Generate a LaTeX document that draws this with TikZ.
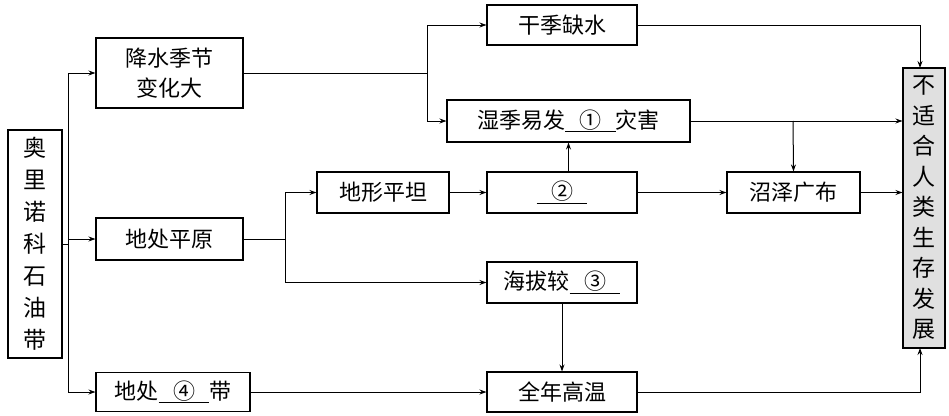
\documentclass[tikz,border=0pt]{standalone}
\usepackage{fontspec}
\setmainfont{Noto Sans CJK SC}
\usetikzlibrary{arrows.meta}
\newcommand\blank[1]{\underline{\makebox[2.3em]{#1}}}
\begin{document}
\begin{tikzpicture}[x=1pt,y=-1pt,
  box/.style={draw,line width=1.1pt,font=\fontsize{22}{24}\selectfont,inner sep=0pt,align=center},
  ar/.style={line width=1pt,-{Stealth[length=7pt,width=5pt]}},
  ln/.style={line width=1pt}]
\useasboundingbox (0,0) rectangle (949,415);
\node[box,minimum width=54,minimum height=228,font=\fontsize{23}{32}\selectfont] (a) at (35,244) {奥\\里\\诺\\科\\石\\油\\带};
\node[box,minimum width=147,minimum height=70,font=\fontsize{22}{30}\selectfont] (b) at (169.5,73) {降水季节\\变化大};
\node[box,minimum width=147,minimum height=42] (c) at (169.5,239) {地处平原};
\node[box,minimum width=154,minimum height=39] (d) at (173,392) {地处\blank{④}带};
\node[box,minimum width=150,minimum height=40] (e) at (562,25) {干季缺水};
\node[box,minimum width=243,minimum height=42] (f) at (568.5,121) {湿季易发\blank{①}灾害};
\node[box,minimum width=132,minimum height=41] (g) at (383,192.5) {地形平坦};
\node[box,minimum width=150,minimum height=41] (h) at (562,192.5) {\blank{②}};
\node[box,minimum width=133,minimum height=41] (i) at (793.5,192.5) {沼泽广布};
\node[box,minimum width=150,minimum height=41] (j) at (562,282.5) {海拔较\blank{③}};
\node[box,minimum width=150,minimum height=40] (k) at (562,392) {全年高温};
\node[box,fill=black!12,minimum width=42,minimum height=280,font=\fontsize{23}{30.5}\selectfont] (z) at (924,208) {不\\适\\合\\人\\类\\生\\存\\发\\展};
% left trunk
\draw[ln] (a.east) -- (68,244);
\draw[ln] (68,73) -- (68,392);
\draw[ar] (68,73) -- (b.west);
\draw[ar] (68,239) -- (c.west);
\draw[ar] (68,392) -- (d.west);
% from b
\draw[ln] (b.east) -- (427,73);
\draw[ln] (427,25) -- (427,121);
\draw[ar] (427,25) -- (e.west);
\draw[ar] (427,121) -- (f.west);
% from c
\draw[ln] (c.east) -- (285,239);
\draw[ln] (285,192.5) -- (285,282.5);
\draw[ar] (285,192.5) -- (g.west);
\draw[ar] (285,282.5) -- (j.west);
\draw[ar] (g) -- (h);
\draw[ar] (f.south |- h.north) -- (f.south);
\draw[ar] (h) -- (i);
\draw[ar] (f.east) -- (f.east -| z.west);
\draw[ar] (793,121) -- (i.north);
\draw[ar] (e.east) -- (920,25) -- (920,68);
\draw[ar] (i.east) -- (i.east -| z.west);
\draw[ar] (j.south) -- (k.north);
\draw[ar] (d.east) -- (k.west);
\draw[ar] (k.east) -- (920,392) -- (920,348);
\end{tikzpicture}
\end{document}
